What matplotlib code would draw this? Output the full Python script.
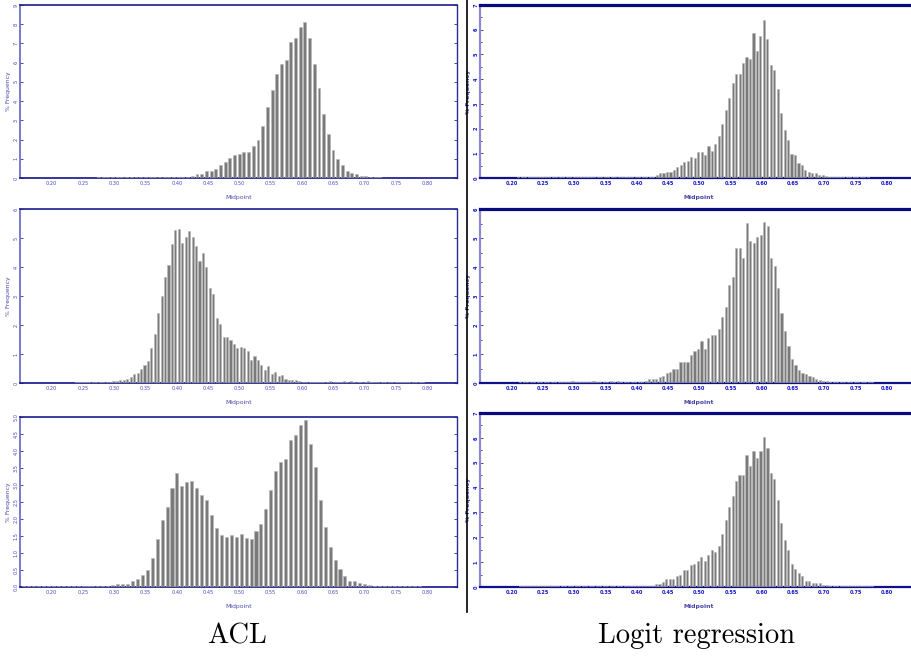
import numpy as np
import matplotlib.pyplot as plt
from matplotlib.lines import Line2D

# bin layout of each histogram (first bin centre, bin width)
acl_top_start, acl_top_step = 0.1548, 0.0075
acl_mid_start, acl_mid_step = 0.2383, 0.0055
acl_bot_start, acl_bot_step = 0.1553, 0.0079
logit_top_start, logit_top_step = 0.2105, 0.00553
logit_mid_start, logit_mid_step = 0.2137, 0.00557
logit_bot_start, logit_bot_step = 0.2134, 0.00557

# % frequency per bin
acl_top = [0.02, 0.02, 0.02, 0.02, 0.02, 0.02, 0.02, 0.02, 0.02, 0.02, 0.02, 0.02,
           0.02, 0.02, 0.02, 0.02, 0.03, 0.03, 0.03, 0.03, 0.03, 0.03, 0.03, 0.03,
           0.03, 0.03, 0.03, 0.03, 0.03, 0.04, 0.03, 0.04, 0.03, 0.04, 0.04, 0.04,
           0.12, 0.23, 0.19, 0.35, 0.38, 0.49, 0.70, 0.83, 1.06, 1.20, 1.23, 1.34,
           1.37, 1.65, 1.98, 2.73, 3.68, 4.58, 5.43, 5.94, 6.15, 7.08, 7.29, 7.85,
           8.13, 7.26, 5.94, 4.67, 3.35, 2.29, 1.46, 0.97, 0.66, 0.36, 0.26, 0.23,
           0.12, 0.09, 0.07, 0.04, 0.03, 0.02, 0.02, 0.02]
acl_mid = [0.02, 0.02, 0.02, 0.03, 0.02, 0.03, 0.03, 0.02, 0.03, 0.03,
           0.05, 0.06, 0.06, 0.12, 0.12, 0.14, 0.21, 0.30, 0.36, 0.50,
           0.61, 0.75, 1.21, 1.68, 2.40, 3.01, 3.64, 4.07, 4.79, 5.28,
           5.32, 4.82, 5.05, 5.25, 5.03, 4.73, 4.21, 4.48, 4.00, 3.29,
           3.07, 2.24, 2.05, 1.59, 1.59, 1.48, 1.34, 1.21, 1.23, 1.19,
           1.11, 0.78, 0.92, 0.81, 0.63, 0.44, 0.58, 0.31, 0.37, 0.25,
           0.27, 0.13, 0.12, 0.09, 0.10, 0.06,
           0.04, 0.05, 0.04, 0.05, 0.04, 0.05, 0.03, 0.04, 0.06, 0.04,
           0.05, 0.04, 0.06, 0.05, 0.07, 0.04, 0.04, 0.05, 0.03, 0.06,
           0.04, 0.03, 0.04, 0.05, 0.03, 0.04, 0.03, 0.03, 0.04, 0.03,
           0.03, 0.03, 0.02, 0.03, 0.02, 0.02]
acl_bot = [0.02, 0.02, 0.02, 0.02, 0.02, 0.02, 0.02, 0.02, 0.02, 0.02, 0.02, 0.02,
           0.02, 0.02, 0.02, 0.02, 0.02,
           0.03, 0.05, 0.08, 0.08, 0.09, 0.19, 0.25, 0.34, 0.49, 0.86,
           1.40, 1.98, 2.34, 2.90, 3.35, 2.98, 3.08, 3.11, 2.90, 2.70,
           2.56, 2.13, 1.73, 1.52, 1.46, 1.52, 1.46, 1.57, 1.44, 1.42,
           1.64, 1.86, 2.30, 2.84, 3.40, 3.67, 3.76, 4.32, 4.48, 4.76,
           4.90, 4.20, 3.52, 2.56, 1.76, 1.18, 0.78, 0.52, 0.31, 0.19,
           0.19, 0.11, 0.08, 0.05, 0.04,
           0.03, 0.03, 0.02, 0.02, 0.02, 0.02, 0.02, 0.02, 0.02]
logit_top = [0.04, 0.04, 0.04, 0.04, 0.04, 0.04, 0.04, 0.04, 0.04, 0.04,
             0.04, 0.04, 0.04, 0.04, 0.04, 0.04, 0.04, 0.04, 0.04, 0.04,
             0.04, 0.04, 0.04, 0.04, 0.04, 0.04, 0.04, 0.04, 0.04, 0.04,
             0.04, 0.04, 0.04, 0.04, 0.04, 0.04, 0.04, 0.05, 0.05, 0.05,
             0.11, 0.20, 0.20, 0.26, 0.26, 0.34, 0.44, 0.51, 0.66, 0.69,
             0.86, 0.79, 1.05, 1.05, 0.93, 1.31, 1.10, 1.36, 1.71, 2.19,
             2.75, 3.22, 3.85, 4.21, 4.21, 4.64, 4.91, 4.82, 5.85, 5.13,
             5.73, 6.39, 5.61, 4.56, 4.39, 3.61, 2.62, 1.95, 1.52, 0.98,
             0.94, 0.62, 0.51, 0.32, 0.24, 0.20, 0.20, 0.12, 0.13, 0.07,
             0.05, 0.05, 0.04, 0.04, 0.04, 0.04, 0.04, 0.04, 0.04, 0.04, 0.04, 0.04]
logit_mid = [0.03, 0.03, 0.03, 0.03, 0.03, 0.03, 0.03, 0.03, 0.03, 0.03, 0.03, 0.03,
             0.03, 0.03, 0.03, 0.07, 0.03, 0.03, 0.03, 0.03, 0.03, 0.07, 0.03, 0.03,
             0.03, 0.03, 0.07, 0.03, 0.06, 0.03, 0.03, 0.03, 0.03, 0.03, 0.03, 0.03,
             0.08, 0.13, 0.15, 0.15, 0.21, 0.25, 0.36, 0.39, 0.50, 0.50,
             0.72, 0.72, 0.72, 0.98, 1.12, 1.18, 1.44, 1.18, 1.55, 1.66,
             1.66, 1.87, 2.28, 2.63, 3.37, 3.64, 4.67, 4.67, 4.30, 5.51,
             4.89, 4.82, 5.03, 5.10, 5.56, 5.40, 4.30, 4.05, 3.26, 2.42,
             1.80, 1.28, 0.83, 0.62, 0.45, 0.36, 0.30, 0.25, 0.20, 0.14,
             0.09, 0.08, 0.08,
             0.03, 0.03, 0.03, 0.03, 0.03, 0.03, 0.03, 0.03, 0.03, 0.03, 0.03, 0.03, 0.03]
logit_bot = [0.05, 0.05, 0.05, 0.05, 0.05, 0.05, 0.05, 0.05, 0.05, 0.05,
             0.05, 0.05, 0.05, 0.05, 0.05, 0.05, 0.05, 0.05, 0.05, 0.05,
             0.05, 0.05, 0.05, 0.05, 0.05, 0.05, 0.05, 0.05, 0.05, 0.05,
             0.05, 0.05, 0.05, 0.05, 0.05, 0.05, 0.05, 0.05, 0.05,
             0.12, 0.12, 0.19, 0.31, 0.31, 0.31, 0.44, 0.50, 0.67, 0.67,
             0.87, 0.93, 1.04, 1.22, 1.04, 1.29, 1.47, 1.41, 1.66, 2.14,
             2.69, 3.23, 3.66, 4.27, 4.51, 4.51, 5.30, 4.87, 5.48, 5.18,
             5.48, 6.02, 5.61, 4.58, 4.33, 3.49, 2.56, 1.91, 1.47, 0.93,
             0.74, 0.55, 0.43, 0.26, 0.26, 0.16, 0.15, 0.15, 0.08, 0.08,
             0.05, 0.05, 0.05, 0.05, 0.05, 0.05, 0.05, 0.05, 0.05, 0.05, 0.05, 0.05, 0.05]

x_ticks = [0.20, 0.25, 0.30, 0.35, 0.40, 0.45, 0.50, 0.55, 0.60, 0.65, 0.70, 0.75, 0.80]
captions = ['ACL', 'Logit regression']

W, H = 911, 656
fig = plt.figure(figsize=(W / 100, H / 100), dpi=100)


def add_panel(x0, y0, x1, y1):
    return fig.add_axes([x0 / W, 1 - y1 / H, (x1 - x0) / W, (y1 - y0) / H])


def draw_hist(ax, start, step, heights, ymax, ystep, right_col):
    centres = start + step * np.arange(len(heights))
    # bars drawn over the bottom spine so the near-empty bins still show
    ax.bar(centres, heights, width=step * 0.62, color='#7a7a7a',
           edgecolor='#b8b8b8', linewidth=0.4, zorder=3)
    ax.set_xlim(0.1493, 0.848)
    ax.set_ylim(0, ymax)
    ax.set_xticks(x_ticks)
    ax.set_xticklabels(['%.2f' % v for v in x_ticks])
    yt = np.arange(0, ymax + 1e-9, ystep)
    ax.set_yticks(yt)
    if ystep < 1:
        ax.set_yticklabels(['%.1f' % v for v in yt], rotation=90, va='center')
    else:
        ax.set_yticklabels(['%d' % v for v in yt], rotation=90, va='center')
    weight = 'bold' if right_col else 'normal'
    tcol = '#1414cc' if right_col else '#4646c8'
    ax.tick_params(axis='x', length=0, pad=2, labelsize=3.6, labelcolor=tcol)
    ax.tick_params(axis='y', direction='in', length=2, width=0.6, color='#2a2a90',
                   pad=1.2, labelsize=3.6, labelcolor=tcol, right=not right_col)
    for lab in ax.get_xticklabels() + ax.get_yticklabels():
        lab.set_fontweight(weight)
    if right_col:
        ax.set_yticks(np.arange(0.5, ymax, 1.0), minor=True)
        ax.tick_params(axis='y', which='minor', direction='in', length=1.5,
                       width=0.6, color='#2a2a90')
        ax.spines['top'].set_color('#0a0a80')
        ax.spines['top'].set_linewidth(2.3)
        ax.spines['left'].set_color('#8a8ad6')
        ax.spines['left'].set_linewidth(1.6)
        ax.spines['bottom'].set_color('#10108a')
        ax.spines['bottom'].set_linewidth(1.6)
        ax.spines['right'].set_visible(False)
    else:
        ax.spines['top'].set_color('#1c1c8c')
        ax.spines['top'].set_linewidth(1.2)
        ax.spines['left'].set_color('#7070c8')
        ax.spines['left'].set_linewidth(1.3)
        ax.spines['bottom'].set_color('#14148a')
        ax.spines['bottom'].set_linewidth(1.2)
        ax.spines['right'].set_color('#2a2a90')
        ax.spines['right'].set_linewidth(1.0)
    ax.set_ylabel('% Frequency', fontsize=4.4, color='#4848a8', fontweight=weight)
    ax.yaxis.set_label_coords(-0.021, 0.5)
    ax.set_xlabel('Midpoint', fontsize=4.4, color='#4848a8', fontweight=weight)
    ax.xaxis.set_label_coords(0.50, -0.098)


ax = add_panel(20, 5, 457, 178)
draw_hist(ax, acl_top_start, acl_top_step, acl_top, 9, 1, False)
ax = add_panel(20, 209, 457, 383)
draw_hist(ax, acl_mid_start, acl_mid_step, acl_mid, 6, 1, False)
ax = add_panel(20, 417, 457, 587)
draw_hist(ax, acl_bot_start, acl_bot_step, acl_bot, 5, 0.5, False)

ax = add_panel(480, 5, 917, 178)
draw_hist(ax, logit_top_start, logit_top_step, logit_top, 7, 1, True)
ax = add_panel(480, 209, 917, 383)
draw_hist(ax, logit_mid_start, logit_mid_step, logit_mid, 6, 1, True)
ax = add_panel(480, 413, 917, 587)
draw_hist(ax, logit_bot_start, logit_bot_step, logit_bot, 7, 1, True)

# divider between the two columns
fig.add_artist(Line2D([467 / W, 467 / W], [1, 1 - 612 / H], color='black', lw=1.2))

fig.text(237 / W, 1 - 636 / H, captions[0], family='cmr10', fontsize=20.5,
         ha='center', va='center')
fig.text(697 / W, 1 - 636 / H, captions[1], family='cmr10', fontsize=20.5,
         ha='center', va='center')

fig.savefig('out.png', dpi=100)
